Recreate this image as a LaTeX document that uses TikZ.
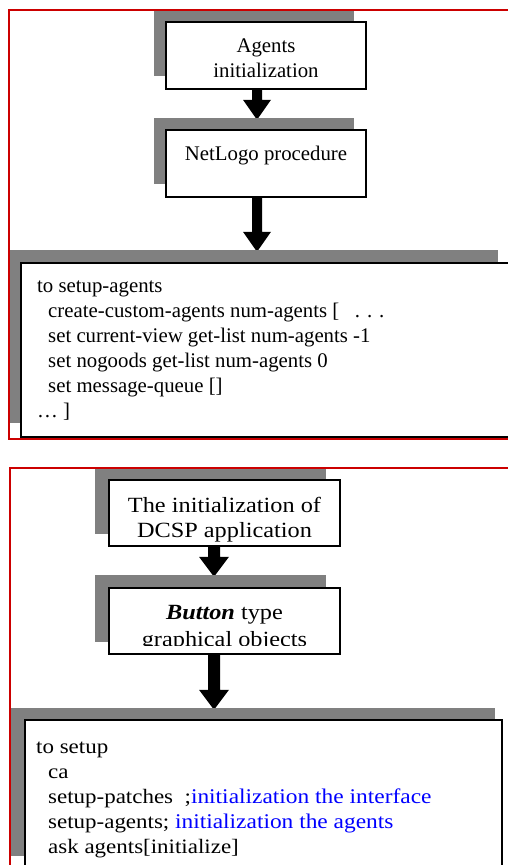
\documentclass[tikz,border=0pt]{standalone}
\usepackage{fontspec}
\setmainfont{Liberation Serif}
\usepackage{graphicx}
\usetikzlibrary{calc}

\definecolor{shadegray}{RGB}{128,128,128}
\definecolor{framered}{RGB}{204,0,0}
\definecolor{noteblue}{RGB}{0,0,255}

\pgfdeclarelayer{under}
\pgfsetlayers{under,main}

% font sizes of the two panels
\newcommand\upperfont{\fontsize{20.8}{25}\selectfont}
\newcommand\lowerboxfont{\fontsize{21.7}{25}\selectfont}
\newcommand\lowercodefont{\fontsize{20.5}{25}\selectfont}
\newcommand\lowernotefont{\fontsize{20.9}{25}\selectfont}
\newcommand\widetext[2]{\scalebox{#1}[1]{#2}}

% block arrow: #1 half stem width, #2 half head width, #3 start, #4 target
\newcommand\blockarrow[4]{%
  \fill[black] let \p1=#3, \p2=#4 in
    (\x1-#1,\y1) -- (\x1+#1,\y1) -- (\x1+#1,\y2+18pt) -- (\x1+#2,\y2+18pt)
    -- (\x1,\y2-2pt) -- (\x1-#2,\y2+18pt) -- (\x1-#1,\y2+18pt) -- cycle;}

\begin{document}
\begin{tikzpicture}[x=1pt,y=-1pt,
  shade/.style={fill=shadegray, draw=none, inner sep=0pt},
  card/.style={draw=black, line width=1.2pt, fill=white, inner sep=0pt},
  frame/.style={draw=framered, line width=2pt},
  lbl/.style={inner sep=0pt, anchor=base, font=\upperfont},
  codeline/.style={inner sep=0pt, anchor=base west, font=\upperfont},
  wlbl/.style={inner sep=0pt, anchor=base, font=\lowerboxfont},
  wcode/.style={inner sep=0pt, anchor=base west, font=\lowercodefont}]

\clip (0,0) rectangle (508,865);
\begin{pgfonlayer}{under}
  \fill[white] (0,0) rectangle (508,865);
\end{pgfonlayer}

% ---------- upper panel: agents initialization ----------
\node[shade, minimum width=200pt, minimum height=66pt] (sh1) at (254,43) {};
\node[card, minimum width=200pt, minimum height=67pt] (b1) at (266,55.5) {};
\node[lbl] (t1a) at (266,52) {Agents};
\node[lbl] (t1b) at (266,77) {initialization};

\node[shade, minimum width=200pt, minimum height=66pt] (sh2) at (254,151) {};
\node[card, minimum width=200pt, minimum height=67pt] (b2) at (266,163.5) {};
\node[lbl] (t2) at (266,160) {NetLogo procedure};

\node[shade, minimum width=489pt, minimum height=173pt] (sh3) at (253.5,336.5) {};
\node[card, minimum width=679pt, minimum height=174pt] (b3) at (360.5,350) {};
\node[codeline] (c1) at (37,292) {to setup-agents};
\node[codeline] (c2) at (48,317) {create-custom-agents num-agents [\ \ \ . . .};
\node[codeline] (c3) at (48,342) {set current-view get-list num-agents -1};
\node[codeline] (c4) at (48,367) {set nogoods get-list num-agents 0};
\node[codeline] (c5) at (48,392) {set message-queue []};
\node[codeline] (c6) at (37,417) {… ]};

\draw[frame] (9,10) rectangle (620,439);

% ---------- lower panel: DCSP application setup ----------
\node[shade, minimum width=231pt, minimum height=66pt] (sh4) at (210.5,501) {};
\node[card, minimum width=231pt, minimum height=66pt] (b4) at (224.5,513) {};
\node[wlbl] (t4a) at (224.5,512) {\widetext{1.12}{The initialization of}};
\node[wlbl] (t4b) at (224.5,537) {\widetext{1.12}{DCSP application}};

\node[shade, minimum width=231pt, minimum height=67pt] (sh5) at (210.5,608.5) {};
\node[card, minimum width=231pt, minimum height=66pt] (b5) at (224.5,621) {};
\begin{scope}
  \clip (109,588) rectangle (340,645);
  \node[wlbl] (t5a) at (224.5,619) {\widetext{1.12}{\textbf{\textit{Button}} type}};
  \node[wlbl] (t5b) at (224.5,646) {\widetext{1.12}{graphical objects}};
\end{scope}

\node[shade, minimum width=484pt, minimum height=148pt] (sh6) at (253,782) {};
\node[card, minimum width=477pt, minimum height=180pt] (b6) at (263.5,810) {};
\node[wcode] (d1) at (36,753) {\widetext{1.12}{to setup}};
\node[wcode] (d2) at (48,778) {\widetext{1.12}{ca}};
\node[wcode] (d3) at (48,803) {\widetext{1.12}{setup-patches\ \ ;{\color{noteblue}\lowernotefont initialization the interface}}};
\node[wcode] (d4) at (48,828) {\widetext{1.12}{setup-agents; {\color{noteblue}\lowernotefont initialization the agents}}};
\node[wcode] (d5) at (48,853) {\widetext{1.12}{ask agents[initialize]}};

\draw[frame] (10,468) rectangle (620,1000);

% ---------- flow arrows, behind the boxes ----------
\begin{pgfonlayer}{under}
  \blockarrow{5pt}{14pt}{([xshift=-9pt]b1.south)}{(sh2.north)}
  \blockarrow{5pt}{14pt}{([xshift=-9pt]b2.south)}{(sh3.north)}
  \blockarrow{6pt}{15pt}{([xshift=-10.5pt]b4.south)}{(sh5.north)}
  \blockarrow{6pt}{15pt}{([xshift=-10.5pt]b5.south)}{(sh6.north)}
\end{pgfonlayer}
\end{tikzpicture}
\end{document}
